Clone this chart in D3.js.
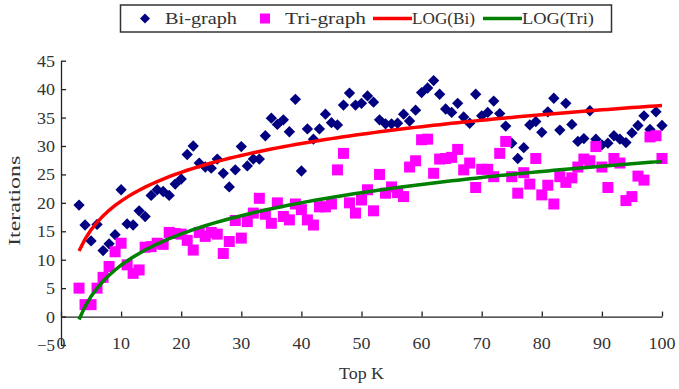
<!DOCTYPE html>
<html><head><meta charset="utf-8">
<script src="https://cdn.jsdelivr.net/npm/d3@7/dist/d3.min.js"></script>
<style>body{margin:0;background:#fff}svg{display:block}text{font-family:"Liberation Serif",serif;fill:#333}</style>
</head><body>
<script>
// ---- data ----
const topK = [3,4,5,6,7,8,9,10,11,12,13,14,15,16,17,18,19,20,21,22,23,24,25,26,27,28,29,30,
  31,32,33,34,35,36,37,38,39,40,41,42,43,44,45,46,47,48,49,50,51,52,53,54,55,56,57,58,59,60,
  61,62,63,64,65,66,67,68,69,70,71,72,73,74,75,76,77,78,79,80,81,82,83,84,85,86,87,88,89,90,
  91,92,93,94,95,96,97,98,99,100];
const biGraph = [19.6,16.1,13.3,16.2,11.6,12.8,14.4,22.3,16.3,16.1,18.6,17.6,21.3,22.3,22.0,21.3,23.3,24.2,28.5,30.0,
  27.0,26.3,26.1,27.7,25.2,22.8,25.8,29.9,26.5,27.7,27.7,31.8,34.9,33.8,34.6,32.5,38.2,25.6,33.0,31.2,
  33.0,35.6,34.1,33.7,37.2,39.3,37.2,37.5,38.8,37.7,34.6,33.9,33.9,34.0,35.6,34.4,36.3,39.4,40.2,41.5,
  39.1,36.5,35.9,37.5,35.1,34.0,39.1,35.3,35.9,37.9,35.7,33.5,30.5,27.8,29.7,33.7,34.3,32.4,36.0,38.4,
  32.8,37.5,33.8,30.8,31.3,36.2,31.2,30.2,30.5,31.8,31.2,30.6,32.3,33.6,35.3,32.9,36.0,33.6];
const triGraph = [5.0,2.1,2.1,5.0,6.9,8.8,11.4,12.9,9.1,7.6,8.2,12.2,12.3,12.9,12.7,14.8,14.6,14.5,13.4,11.7,
  14.8,14.1,14.8,14.5,11.1,13.2,16.9,13.8,16.7,18.2,20.8,18.0,16.4,20.0,17.6,17.0,19.8,18.8,17.0,16.1,
  19.3,19.3,19.8,25.8,28.7,20.0,18.2,20.5,22.3,18.6,25.0,21.7,22.8,21.8,21.1,26.3,27.4,31.1,31.2,25.2,
  27.7,27.8,28.0,29.4,25.8,27.0,22.7,25.9,25.9,24.6,28.7,30.8,24.6,21.7,25.3,23.3,27.8,21.4,23.1,19.8,
  24.6,23.6,24.4,26.3,27.7,27.4,29.9,26.3,22.7,27.8,27.0,20.4,21.1,24.7,24.0,31.6,31.8,27.8];
const xTicks = [0,10,20,30,40,50,60,70,80,90,100];
const yTicks = [-5,0,5,10,15,20,25,30,35,40,45];
const seriesNames = ["Bi-graph","Tri-graph","LOG(Bi)","LOG(Tri)"];

// ---- log trendline (least squares y = a*ln(x) + b), as the spreadsheet does ----
function logFit(xs, ys){
  const lx = xs.map(Math.log);
  const mx = d3.mean(lx), my = d3.mean(ys);
  let sxy=0, sxx=0;
  lx.forEach((v,i)=>{ sxy += (v-mx)*(ys[i]-my); sxx += (v-mx)*(v-mx); });
  const a = sxy/sxx, b = my - a*mx;
  return xs.map(v => [v, a*Math.log(v)+b]);
}

const CH = 9; // monospace-like advance per character in the original font
function mono(sel){ sel.attr("textLength", function(){ return this.textContent.length*CH; })
  .attr("lengthAdjust","spacingAndGlyphs"); }

const W=679, H=389;
const svg = d3.select("body").append("svg").attr("width",W).attr("height",H);
const x = d3.scaleLinear().domain([0,100]).range([61,662]);
const y = d3.scaleLinear().domain([-5,45]).range([345,60.7]);
const FS = "16px";

// y axis
const ya = svg.append("g").attr("transform",`translate(${x(0)},0)`)
  .call(d3.axisLeft(y).tickValues(yTicks).tickSizeInner(-5).tickSizeOuter(0).tickPadding(6)
    .tickFormat(d => d<0 ? "\u22125" : d));
ya.selectAll("path,line").attr("stroke","#222").attr("stroke-width",1.3);
ya.selectAll("text").style("font-size","17px").style("font-family","Liberation Serif").attr("fill","#333").call(mono);

// x axis line at y=0, ticks upward
const xa = svg.append("g").attr("transform",`translate(0,${y(0)})`)
  .call(d3.axisBottom(x).tickValues(xTicks).tickSizeInner(-5).tickSizeOuter(0).tickFormat(""));
xa.selectAll("path,line").attr("stroke","#222").attr("stroke-width",1.3);
// x tick labels at the bottom
svg.append("g").selectAll("text").data(xTicks).join("text")
  .attr("x", d=>x(d)).attr("y", y(-5)-2).attr("text-anchor","middle")
  .attr("dominant-baseline","central").style("font-size","17px").text(d=>d).call(mono);

// axis titles
svg.append("text").attr("x", x(50)).attr("y", 373).attr("text-anchor","middle")
  .attr("dominant-baseline","central").style("font-size",FS).text("Top K").call(mono);
svg.append("text").attr("transform",`translate(14,${(y(45)+y(-5))/2 - 2}) rotate(-90)`)
  .attr("text-anchor","middle").attr("dominant-baseline","central").style("font-size",FS).text("Iterations").call(mono);

// points
const diamond = d3.symbol().type(d3.symbolSquare).size(64);
svg.append("g").selectAll("path").data(topK.map((k,i)=>[k,biGraph[i]])).join("path")
  .attr("d", diamond()).attr("transform", d=>`translate(${x(d[0])},${y(d[1])}) rotate(45)`)
  .attr("fill","#000080");
svg.append("g").selectAll("rect").data(topK.map((k,i)=>[k,triGraph[i]])).join("rect")
  .attr("x", d=>x(d[0])-5.5).attr("y", d=>y(d[1])-5.5).attr("width",11).attr("height",11)
  .attr("fill","#FF00FF");

// trend lines
const line = d3.line().x(d=>x(d[0])).y(d=>y(d[1])).curve(d3.curveLinear);
svg.append("path").datum(logFit(topK, biGraph)).attr("d", line)
  .attr("fill","none").attr("stroke","#FF0000").attr("stroke-width",3.5);
svg.append("path").datum(logFit(topK, triGraph)).attr("d", line)
  .attr("fill","none").attr("stroke","#008000").attr("stroke-width",3.5);

// legend
const lg = svg.append("g");
lg.append("rect").attr("x",120.5).attr("y",5).attr("width",491).attr("height",27)
  .attr("fill","#fff").attr("stroke","#333").attr("stroke-width",1.5);
const ly = 18.5;
lg.append("path").attr("d", d3.symbol().type(d3.symbolSquare).size(50)())
  .attr("transform",`translate(145,${ly}) rotate(45)`).attr("fill","#000080");
lg.append("text").attr("x",165).attr("y",ly).attr("dominant-baseline","central").style("font-size",FS).text(seriesNames[0]).call(mono);
lg.append("rect").attr("x",260).attr("y",ly-5).attr("width",10).attr("height",10).attr("fill","#FF00FF");
lg.append("text").attr("x",285).attr("y",ly).attr("dominant-baseline","central").style("font-size",FS).text(seriesNames[1]).call(mono);
lg.append("line").attr("x1",373).attr("x2",412).attr("y1",ly).attr("y2",ly).attr("stroke","#FF0000").attr("stroke-width",3.5);
lg.append("text").attr("x",412).attr("y",ly).attr("dominant-baseline","central").style("font-size",FS).text(seriesNames[2]).call(mono);
lg.append("line").attr("x1",483).attr("x2",522).attr("y1",ly).attr("y2",ly).attr("stroke","#008000").attr("stroke-width",3.5);
lg.append("text").attr("x",522).attr("y",ly).attr("dominant-baseline","central").style("font-size",FS).text(seriesNames[3]).call(mono);
</script>
</body></html>
